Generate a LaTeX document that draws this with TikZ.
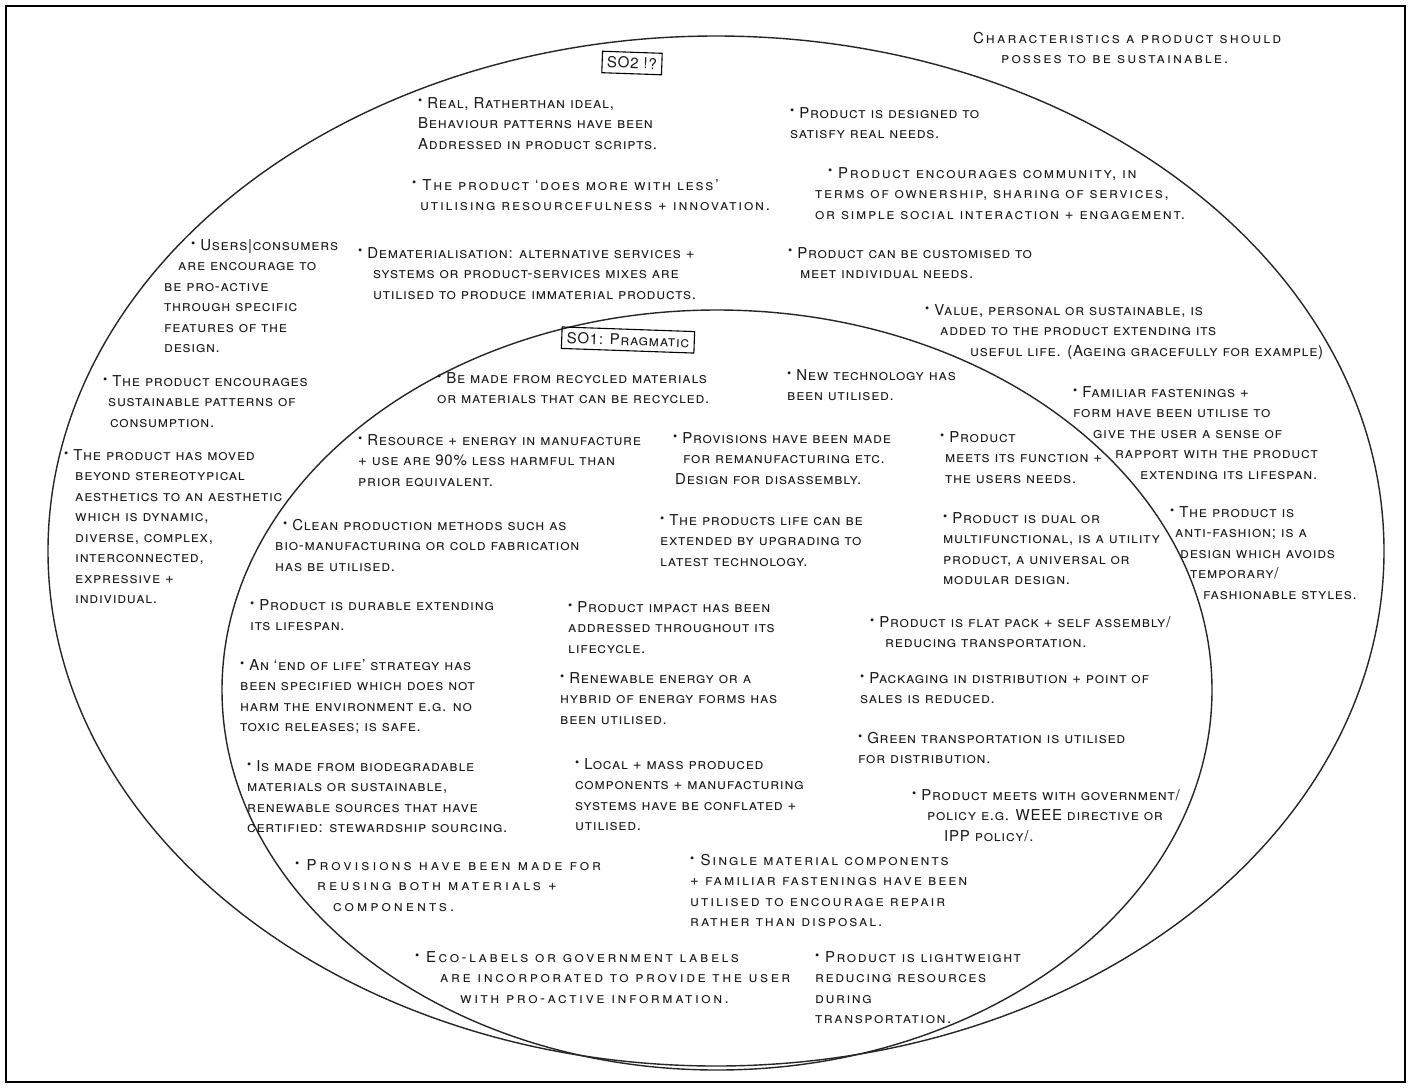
\documentclass[tikz,border=0pt]{standalone}
\usepackage{fontspec}
\setmainfont{TeX Gyre Heros}[LetterSpace=5]
\usepackage{graphicx}
% small raised bullet used at the start of every point
\newcommand\bul{\raisebox{.4ex}{\scalebox{.8}{•}}\ }
% wider letter spacing for the more loosely written points
\newcommand\spaced[1]{\addfontfeatures{LetterSpace=#1}}
\begin{document}
\begin{tikzpicture}[x=1pt,y=-1pt,
  hand/.style={line width=1.4pt, draw=black!85},
  note/.style={anchor=north west, inner sep=0pt, align=left,
    font=\fontsize{15}{20.5}\selectfont\scshape, text=black!90},
  loose/.style={note, font=\fontsize{15}{20.5}\selectfont\scshape\spaced{#1}},
  tag/.style={draw, line width=1.1pt, inner sep=5pt, text=black!90,
    font=\fontsize{15}{16}\selectfont\scshape}]
\useasboundingbox (0,0) rectangle (1411,1088);
\fill[white] (0,0) rectangle (1411,1088);
\draw[line width=1.5pt] (6,6) rectangle (1405,1082);

% the two sets of characteristics
\draw[hand] (716,551) ellipse [x radius=668pt, y radius=515pt];
\draw[hand] (717,690) ellipse [x radius=495pt, y radius=380pt];

% headings
\node[loose=14] (title) at (973,32) {Characteristics a product should\\\hspace{28pt}posses to be sustainable.};
\node[tag, rotate=-2] (so2) at (632,63) {SO2 !?};
\node[tag, rotate=-2] (so1) at (628,340) {SO1: Pragmatic};

% outer set
\node[note] (real) at (418,97) {\bul Real, Ratherthan ideal,\\Behaviour patterns have been\\Addressed in product scripts.};
\node[loose=12] (less) at (412,179) {\bul The product ‘does more with less’\\\hspace{8pt}utilising resourcefulness + innovation.};
\node[note] (needs) at (790,107) {\bul Product is designed to\\satisfy real needs.};
\node[loose=11] (community) at (815,167) {\hspace{13pt}\bul Product encourages community, in\\terms of ownership, sharing of services,\\or simple social interaction + engagement.};
\node[note] (users) at (164,239) {\hspace{27pt}\bul Users|consumers\\\hspace{14pt}are encourage to\\be pro-active\\through specific\\features of the\\design.};
\node[note] (demat) at (358,247) {\bul Dematerialisation: alternative services +\\\hspace{15pt}systems or product-services mixes are\\\hspace{15pt}utilised to produce immaterial products.};
\node[note] (custom) at (788,247) {\bul Product can be customised to\\\hspace{12pt}meet individual needs.};
\node[note] (value) at (925,304) {\bul Value, personal or sustainable, is\\\hspace{15pt}added to the product extending its\\\hspace{45pt}useful life. (Ageing gracefully for example)};
\node[note] (fasten) at (1073,386) {\bul Familiar fastenings +\\form have been utilise to\\\hspace{20pt}give the user a sense of\\\hspace{42pt}rapport with the product\\\hspace{67pt}extending its lifespan.};
\node[note] (fashion) at (1170,506) {\bul The product is\\\hspace{5pt}anti-fashion; is a\\\hspace{10pt}design which avoids\\\hspace{20pt}temporary/\\\hspace{33pt}fashionable styles.};
\node[note] (patterns) at (103,375) {\bul The product encourages\\\hspace{5pt}sustainable patterns of\\\hspace{7pt}consumption.};
\node[note] (aesthetic) at (64,449) {\bul The product has moved\\\hspace{11pt}beyond stereotypical\\\hspace{11pt}aesthetics to an aesthetic\\\hspace{11pt}which is dynamic,\\\hspace{11pt}diverse, complex,\\\hspace{11pt}interconnected,\\\hspace{11pt}expressive +\\\hspace{11pt}individual.};

% inner set
\node[note] (recycled) at (437,372) {\bul Be made from recycled materials\\or materials that can be recycled.};
\node[note] (newtech) at (787,369) {\bul New technology has\\been utilised.};
\node[note] (resource) at (358,434) {\bul Resource + energy in manufacture\\+ use are 90\% less harmful than\\prior equivalent.};
\node[note] (reman) at (673,432) {\bul Provisions have been made\\\hspace{10pt}for remanufacturing etc.\\\hspace{2pt}Design for disassembly.};
\node[note] (function) at (940,431) {\bul Product\\\hspace{5pt}meets its function +\\\hspace{5pt}the users needs.};
\node[note] (clean) at (275,519) {\hspace{8pt}\bul Clean production methods such as\\bio-manufacturing or cold fabrication\\has be utilised.};
\node[note] (upgrade) at (660,514) {\bul The products life can be\\extended by upgrading to\\latest technology.};
\node[note] (dual) at (943,512) {\bul Product is dual or\\multifunctional, is a utility\\product, a universal or\\modular design.};
\node[note] (durable) at (250,599) {\bul Product is durable extending\\its lifespan.};
\node[note] (impact) at (568,601) {\bul Product impact has been\\addressed throughout its\\lifecycle.};
\node[note] (flatpack) at (870,616) {\bul Product is flat pack + self assembly/\\\hspace{15pt}reducing transportation.};
\node[note] (endlife) at (240,659) {\bul An ‘end of life’ strategy has\\been specified which does not\\harm the environment e.g. no\\toxic releases; is safe.};
\node[note] (renew) at (560,672) {\bul Renewable energy or a\\hybrid of energy forms has\\been utilised.};
\node[note] (packaging) at (860,672) {\bul Packaging in distribution + point of\\sales is reduced.};
\node[note] (green) at (858,732) {\bul Green transportation is utilised\\for distribution.};
\node[note] (biodeg) at (247,760) {\bul Is made from biodegradable\\materials or sustainable,\\renewable sources that have\\certified: stewardship sourcing.};
\node[note] (local) at (575,758) {\bul Local + mass produced\\components + manufacturing\\systems have be conflated +\\utilised.};
\node[note] (policy) at (912,789) {\bul Product meets with government/\\\hspace{15pt}policy e.g. WEEE directive or\\\hspace{32pt}IPP policy/.};
\node[loose=20] (reuse) at (295,859) {\bul Provisions have been made for\\\hspace{22pt}reusing both materials +\\\hspace{38pt}components.};
\node[loose=13] (single) at (690,854) {\bul Single material components\\+ familiar fastenings have been\\utilised to encourage repair\\rather than disposal.};
\node[loose=17] (ecolabel) at (415,951) {\bul Eco-labels or government labels\\\hspace{25pt}are incorporated to provide the user\\\hspace{45pt}with pro-active information.};
\node[loose=10] (light) at (815,951) {\bul Product is lightweight\\reducing resources\\during\\transportation.};
\end{tikzpicture}
\end{document}
